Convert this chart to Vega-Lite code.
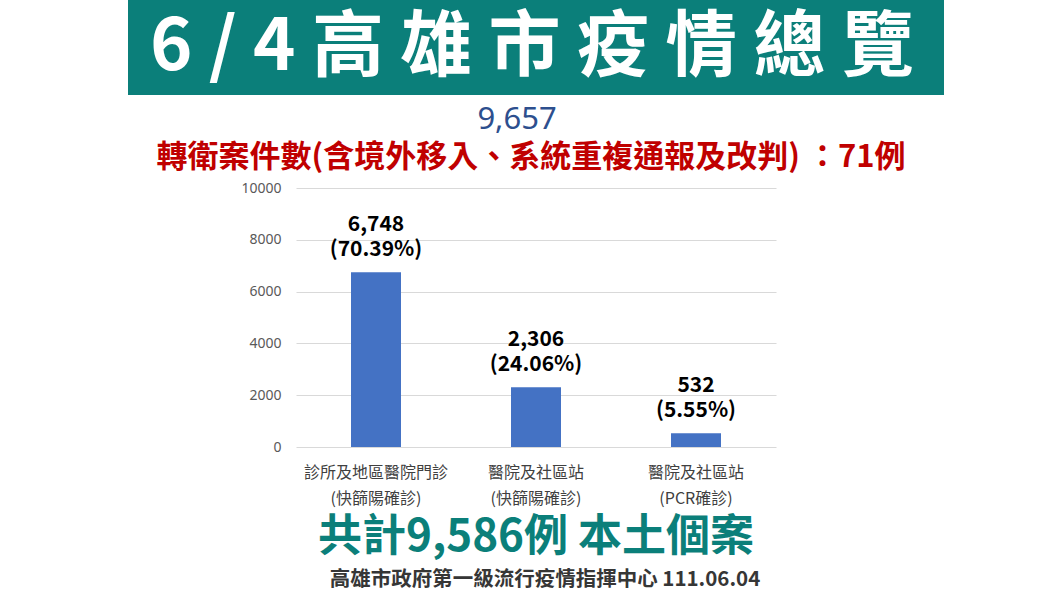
{
  "$schema": "https://vega.github.io/schema/vega-lite/v6.json",
  "background": "white",
  "padding": {"left": 128, "top": 0, "right": 0, "bottom": 0},
  "bounds": "flush",
  "center": true,
  "spacing": 0,
  "config": {"view": {"stroke": null}, "font": "Noto Sans CJK TC"},
  "vconcat": [
    {
      "width": 816,
      "height": 95,
      "view": {"fill": "#0b7f7a", "stroke": null},
      "data": {"values": [{"t": "6 / 4 高 雄 市 疫 情 總 覽"}]},
      "mark": {"type": "text", "fontSize": 72, "fontWeight": "bold", "color": "white", "dx": -4, "dy": 0},
      "encoding": {"text": {"field": "t"}}
    },
    {
      "width": 816,
      "height": 93,
      "data": {"values": [{"a": "9,657", "b": "轉衛案件數(含境外移入、系統重複通報及改判) ：71例"}]},
      "layer": [
        {
          "mark": {"type": "text", "fontSize": 31, "color": "#2d4f8e", "font": "Noto Sans", "dx": -19, "dy": -21.5},
          "encoding": {"text": {"field": "a"}}
        },
        {
          "mark": {"type": "text", "fontSize": 31, "fontWeight": "bold", "color": "#c00000", "dx": -5, "dy": 16.5},
          "encoding": {"text": {"field": "b"}}
        }
      ]
    },
    {
      "width": 480,
      "height": 259,
      "data": {"values": [
        {"cat": "診所及地區醫院門診", "sub": "(快篩陽確診)", "cases": 6748, "pct": "(70.39%)"},
        {"cat": "醫院及社區站 ", "sub": "(快篩陽確診)", "cases": 2306, "pct": "(24.06%)"},
        {"cat": "醫院及社區站", "sub": "(PCR確診)", "cases": 532, "pct": "(5.55%)"}
      ]},
      "encoding": {
        "x": {
          "field": "cat", "type": "nominal", "sort": null,
          "scale": {"paddingInner": 0.6875, "paddingOuter": 0.34375},
          "axis": {"title": null, "labelAngle": 0, "ticks": false, "domain": false, "labelPadding": 17, "labelFontSize": 16, "labelColor": "#404040", "labelLimit": 400, "labelOverlap": false}
        },
        "y": {
          "field": "cases", "type": "quantitative",
          "scale": {"domain": [0, 10000]},
          "axis": {"title": null, "values": [0, 2000, 4000, 6000, 8000, 10000], "format": "d", "ticks": false, "domain": false, "labelPadding": 15, "labelFontSize": 14, "labelColor": "#595959", "labelFont": "Noto Sans", "gridColor": "#d9d9d9"}
        }
      },
      "layer": [
        {"mark": {"type": "bar", "color": "#4472c4"}},
        {
          "mark": {"type": "text", "baseline": "bottom", "dy": -37, "fontSize": 21, "fontWeight": "bold", "color": "black"},
          "encoding": {"text": {"field": "cases", "type": "quantitative", "format": ","}}
        },
        {
          "mark": {"type": "text", "baseline": "bottom", "dy": -12, "fontSize": 21, "fontWeight": "bold", "color": "black"},
          "encoding": {"text": {"field": "pct"}}
        },
        {
          "mark": {"type": "text", "baseline": "middle", "dy": 52, "fontSize": 16, "color": "#404040"},
          "encoding": {"y": {"datum": 0}, "text": {"field": "sub"}}
        }
      ]
    },
    {
      "width": 816,
      "height": 114,
      "data": {"values": [{"t": "共計9,586例 本土個案"}]},
      "mark": {"type": "text", "fontSize": 44, "fontWeight": "bold", "color": "#0b7f7a", "dy": 34},
      "encoding": {"text": {"field": "t"}}
    },
    {
      "width": 816,
      "height": 35,
      "data": {"values": [{"t": "高雄市政府第一級流行疫情指揮中心 111.06.04"}]},
      "mark": {"type": "text", "fontSize": 20.5, "fontWeight": "bold", "color": "#363636", "dx": 9, "dy": 1},
      "encoding": {"text": {"field": "t"}}
    }
  ]
}
